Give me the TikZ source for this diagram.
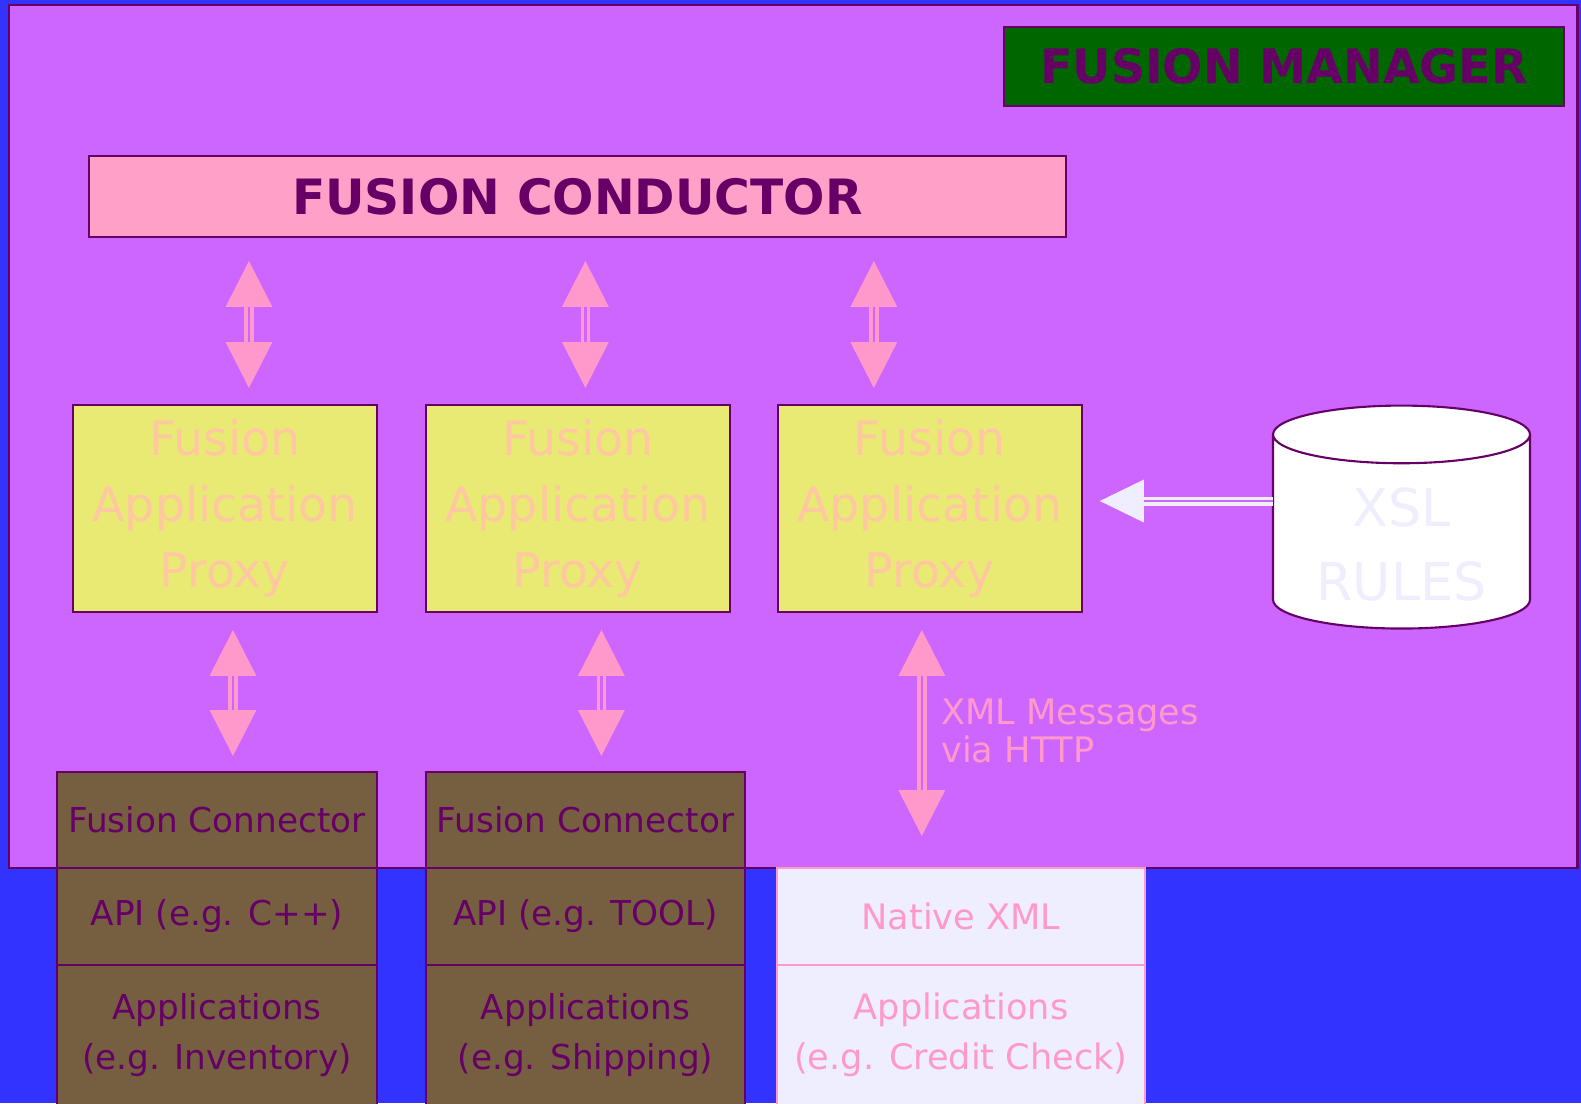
\documentclass[tikz,border=0pt]{standalone}
\usepackage{fontspec}
\setmainfont{DejaVu Sans}
\usetikzlibrary{arrows.meta,shapes.geometric,positioning}
\definecolor{bgblue}{HTML}{3333FF}
\definecolor{mgrfill}{HTML}{CC66FF}
\definecolor{plum}{HTML}{660066}
\definecolor{mgrgreen}{HTML}{006600}
\definecolor{condpink}{HTML}{FFA0C8}
\definecolor{linkpink}{HTML}{FF99CC}
\definecolor{proxyfill}{HTML}{E8EA74}
\definecolor{proxytext}{HTML}{FFC8A0}
\definecolor{connbrown}{HTML}{765E40}
\definecolor{lavender}{HTML}{EEEEFF}
\tikzset{
  base/.style={align=center, inner sep=0pt, outer sep=0mm},
  frame/.style={rectangle, draw=plum, line width=1.5pt, fill=mgrfill, base},
  title/.style={rectangle, draw=plum, line width=1.2pt, fill=mgrgreen, text=plum, font=\fontsize{27}{32}\selectfont\bfseries, base},
  conductor/.style={rectangle, draw=plum, line width=1.2pt, fill=condpink, text=plum, minimum width=19.54cm, minimum height=1.62cm, font=\fontsize{27.7}{34}\selectfont\bfseries, base},
  proxy/.style={rectangle, draw=plum, line width=1.4pt, fill=proxyfill, text=proxytext, minimum width=6.08cm, minimum height=4.14cm, font=\fontsize{27}{37.7}\selectfont, base},
  layer/.style={rectangle, draw=plum, line width=1.1pt, fill=connbrown, text=plum, font=\fontsize{19.5}{28.6}\selectfont, base},
  xmllayer/.style={rectangle, draw=linkpink, line width=1.1pt, fill=lavender, text=linkpink, font=\fontsize{20}{28.6}\selectfont, base},
  rules/.style={cylinder, shape border rotate=90, aspect=0.34, draw=plum, line width=1.2pt, fill=white, minimum width=5.14cm, minimum height=4.46cm, font=\fontsize{29.7}{42.4}\selectfont, base},
  rulestext/.style={text=lavender, font=\fontsize{29.7}{42.4}\selectfont, base},
  link/.style={draw=linkpink, line width=0.07cm, double=mgrfill, double distance=0.05cm, {Triangle[length=0.92cm,width=0.92cm]}-{Triangle[length=0.92cm,width=0.92cm]}},
  feed/.style={draw=lavender, line width=0.07cm, double=mgrfill, double distance=0.04cm, -{Triangle[length=0.88cm,width=0.84cm]}},
  note/.style={text=linkpink, align=left, inner sep=0pt, font=\fontsize{20}{21.2}\selectfont}
}
\begin{document}
\begin{tikzpicture}[x=0.02cm, y=-0.02cm]
  \fill[bgblue] (0,0) rectangle (1581,1103);
  \useasboundingbox (0,0) rectangle (1581,1103);

  \node[frame, anchor=north west, minimum width=31.38cm, minimum height=17.26cm] (mgr) at (9,5) {};
  \node[title, anchor=north west, minimum width=11.2cm, minimum height=1.58cm] (mgrtitle) at (1004,27) {FUSION MANAGER};
  \node[conductor, anchor=north west] (cond) at (89,156) {FUSION CONDUCTOR};

  \node[proxy, anchor=north west] (p1) at (73,405) {Fusion\\Application\\Proxy};
  \node[proxy, right=0.98cm of p1] (p2) {Fusion\\Application\\Proxy};
  \node[proxy, right=0.96cm of p2] (p3) {Fusion\\Application\\Proxy};
  \node[rules] (xsl) at (1401.5,532) {\phantom{XSL}\\\phantom{RULES}};
  \node[rulestext] (xsltext) at ([yshift=-0.25cm]xsl.center) {XSL\\RULES};

  % connector stacks
  \node[layer, anchor=north west, minimum width=6.4cm, minimum height=1.92cm] (conn1) at (57,772) {Fusion Connector};
  \node[layer, below=0pt of conn1, minimum width=6.4cm, minimum height=1.94cm] (api1) {API (e.g. C++)};
  \node[layer, below=0pt of api1, minimum width=6.4cm, minimum height=2.8cm] (app1) {Applications\\(e.g. Inventory)};

  \node[layer, anchor=north west, minimum width=6.38cm, minimum height=1.92cm] (conn2) at (426,772) {Fusion Connector};
  \node[layer, below=0pt of conn2, minimum width=6.38cm, minimum height=1.94cm] (api2) {API (e.g. TOOL)};
  \node[layer, below=0pt of api2, minimum width=6.38cm, minimum height=2.8cm] (app2) {Applications\\(e.g. Shipping)};

  \node[xmllayer, anchor=north west, minimum width=7.36cm, minimum height=1.94cm] (nat) at (777,868) {Native XML};
  \node[xmllayer, below=0pt of nat, minimum width=7.36cm, minimum height=2.8cm] (app3) {Applications\\(e.g. Credit Check)};

  \node[note, anchor=west] (xmlnote) at (941,731) {XML Messages\\via HTTP};

  % links
  \draw[link, shorten <=0.48cm, shorten >=0.34cm] ([xshift=0.48cm]p1.north |- cond.south) -- ([xshift=0.48cm]p1.north);
  \draw[link, shorten <=0.48cm, shorten >=0.34cm] ([xshift=0.15cm]p2.north |- cond.south) -- ([xshift=0.15cm]p2.north);
  \draw[link, shorten <=0.48cm, shorten >=0.34cm] ([xshift=-1.12cm]p3.north |- cond.south) -- ([xshift=-1.12cm]p3.north);
  \draw[link, shorten <=0.36cm, shorten >=0.32cm] ([xshift=0.16cm]p1.south) -- ([xshift=0.16cm]p1.south |- conn1.north);
  \draw[link, shorten <=0.36cm, shorten >=0.32cm] ([xshift=0.47cm]p2.south) -- ([xshift=0.47cm]p2.south |- conn2.north);
  \draw[link, shorten <=0.36cm, shorten >=0.64cm] ([xshift=-0.16cm]p3.south) -- ([xshift=-0.16cm]p3.south |- nat.north);
  \draw[feed, shorten >=0.36cm] ([yshift=0.62cm]xsl.west) -- ([yshift=0.62cm]xsl.west -| p3.east);
\end{tikzpicture}
\end{document}
